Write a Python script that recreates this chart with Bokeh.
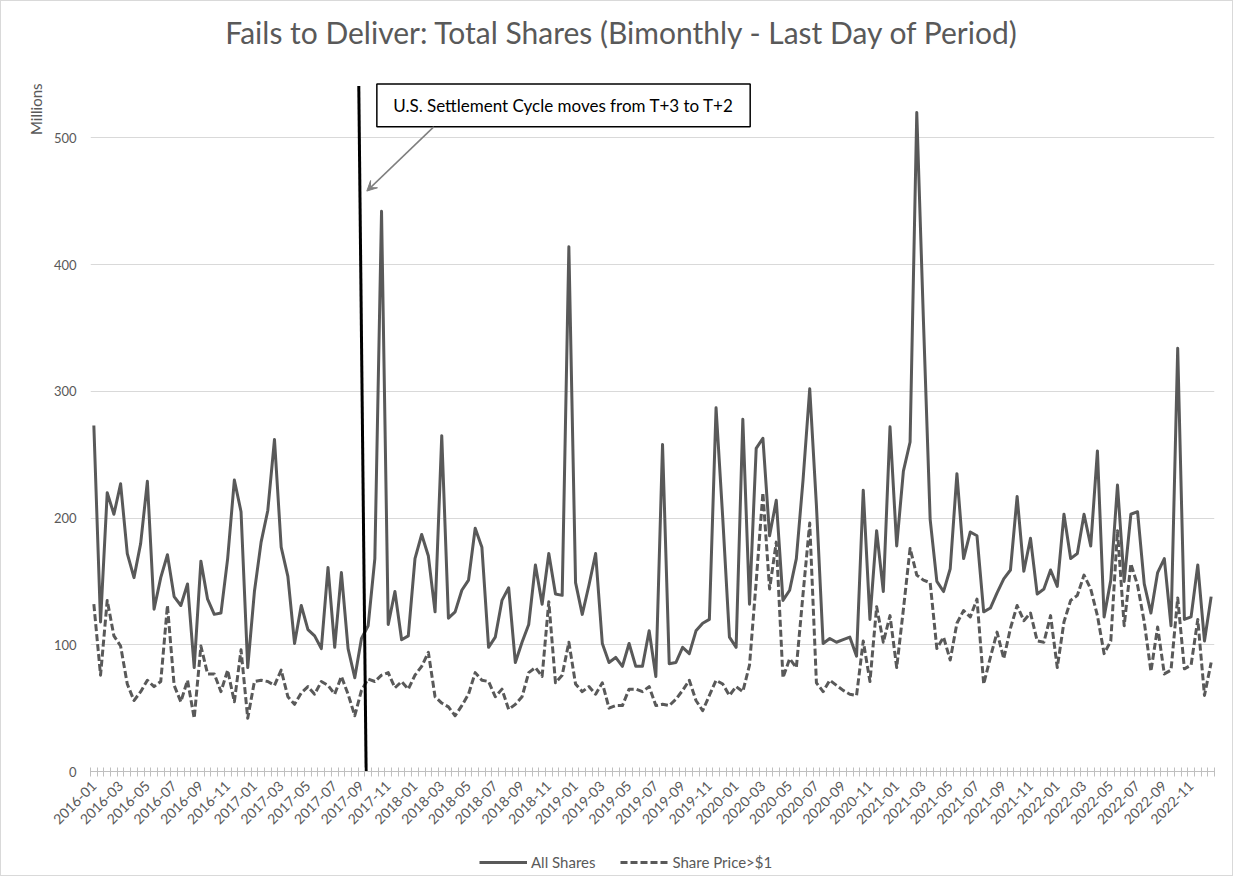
import math
from bokeh.plotting import figure
from bokeh.layouts import column
from bokeh.models import Range1d, FixedTicker, Label, Legend, LegendItem, Arrow, VeeHead, Title
from bokeh.embed import file_html
from bokeh.resources import INLINE

# ---- data (millions of shares, twice-monthly, 2016-01 .. 2022-12) ----
all_shares = [273, 118, 220, 203, 227, 172, 153, 180, 229, 128,
              153, 171, 138, 131, 148, 82, 166, 136, 124, 125,
              168, 230, 205, 82, 142, 181, 206, 262, 177, 154,
              101, 131, 112, 107, 97, 161, 98, 157, 97, 74,
              105, 115, 168, 442, 116, 142, 104, 107, 168, 187,
              170, 126, 265, 121, 126, 143, 151, 192, 177, 98,
              106, 135, 145, 86, 102, 116, 163, 132, 172, 140,
              139, 414, 149, 124, 147, 172, 101, 86, 90, 83,
              101, 83, 83, 111, 75, 258, 85, 86, 98, 93,
              111, 117, 120, 287, 200, 106, 98, 278, 132, 255,
              263, 186, 214, 135, 143, 168, 230, 302, 210, 101,
              105, 102, 104, 106, 91, 222, 120, 190, 142, 272,
              178, 237, 260, 520, 355, 199, 150, 142, 160, 235,
              168, 189, 186, 126, 129, 141, 152, 159, 217, 158,
              184, 140, 144, 159, 146, 203, 168, 172, 203, 178,
              253, 122, 151, 226, 150, 203, 205, 148, 125, 157,
              168, 115, 334, 120, 122, 163, 103, 138]

share_price_gt1 = [132, 76, 135, 107, 99, 69, 56, 63, 72, 67,
                   71, 131, 68, 55, 72, 42, 99, 77, 77, 63,
                   80, 55, 96, 42, 71, 72, 71, 68, 80, 59,
                   53, 62, 67, 61, 71, 68, 61, 75, 61, 44,
                   64, 73, 71, 76, 78, 66, 71, 65, 76, 83,
                   94, 59, 54, 51, 44, 52, 61, 78, 72, 71,
                   59, 65, 49, 53, 59, 78, 82, 75, 134, 70,
                   76, 102, 69, 63, 67, 61, 70, 50, 52, 52,
                   65, 65, 63, 67, 52, 53, 52, 57, 64, 72,
                   56, 48, 60, 72, 69, 60, 67, 63, 84, 150,
                   220, 144, 181, 74, 89, 82, 140, 196, 70, 63,
                   72, 68, 64, 61, 60, 103, 71, 130, 102, 123,
                   82, 128, 176, 155, 151, 149, 97, 106, 88, 117,
                   127, 122, 136, 69, 90, 110, 89, 113, 131, 119,
                   125, 103, 102, 123, 82, 118, 135, 139, 155, 144,
                   123, 93, 103, 190, 115, 164, 147, 118, 79, 114,
                   77, 80, 137, 81, 84, 120, 60, 86]

tick_labels = ["2016-01", "2016-03", "2016-05", "2016-07", "2016-09", "2016-11",
               "2017-01", "2017-03", "2017-05", "2017-07", "2017-09", "2017-11",
               "2018-01", "2018-03", "2018-05", "2018-07", "2018-09", "2018-11",
               "2019-01", "2019-03", "2019-05", "2019-07", "2019-09", "2019-11",
               "2020-01", "2020-03", "2020-05", "2020-07", "2020-09", "2020-11",
               "2021-01", "2021-03", "2021-05", "2021-07", "2021-09", "2021-11",
               "2022-01", "2022-03", "2022-05", "2022-07", "2022-09", "2022-11"]
y_ticks = [0, 100, 200, 300, 400, 500]

series_names = ["All Shares", "Share Price>$1"]
title_text = "Fails to Deliver: Total Shares (Bimonthly - Last Day of Period)"
note_text = "U.S. Settlement Cycle moves from T+3 to T+2"

n = len(all_shares)
x = list(range(n))
label_pos = list(range(0, n, 4))[:len(tick_labels)]

FONT = "Lato"
GREY = "#595959"
DASH = "7 3"
W = 1231
BL, BR = 89, 18
FRAME_W = W - BL - BR


def strip(height):
    s = figure(width=W, height=height, output_backend="svg", toolbar_location=None, title=None,
               x_range=Range1d(0, FRAME_W), y_range=Range1d(0, height),
               min_border_left=BL, min_border_right=BR, min_border_top=0, min_border_bottom=0,
               x_axis_type=None, y_axis_type=None)
    s.outline_line_color = None
    s.background_fill_color = "white"
    s.border_fill_color = "white"
    return s


# ---- title strip ----
hdr = strip(73)
hdr.add_layout(Label(x=532, y=43, text=title_text, text_align="center", text_baseline="middle",
                     text_font=FONT, text_font_size="30px", text_color=GREY))

# ---- main chart ----
p = figure(width=W, height=771, output_backend="svg", toolbar_location=None, title=None,
           x_range=Range1d(-0.5, n - 0.5), y_range=Range1d(0, 550),
           min_border_left=BL, min_border_right=BR, min_border_top=0, min_border_bottom=74)
p.outline_line_color = None
p.background_fill_color = "white"
p.border_fill_color = "white"

p.xgrid.visible = False
p.ygrid.ticker = FixedTicker(ticks=y_ticks)
p.ygrid.grid_line_color = "#d9d9d9"
p.ygrid.grid_line_width = 1

p.yaxis.ticker = FixedTicker(ticks=y_ticks)
p.yaxis.axis_line_color = None
p.yaxis.major_tick_line_color = None
p.yaxis.minor_tick_line_color = None
p.yaxis.major_label_standoff = 8
p.yaxis.major_label_text_font = FONT
p.yaxis.major_label_text_font_size = "13px"
p.yaxis.major_label_text_color = GREY

p.add_layout(Title(text="Millions", align="right", text_font=FONT, text_font_size="15px",
                   text_font_style="normal", text_color=GREY, standoff=12, offset=9), "left")

p.xaxis.ticker = FixedTicker(ticks=label_pos, minor_ticks=[k - 0.5 for k in range(n + 1)])
p.xaxis.major_label_overrides = {pos: lab for pos, lab in zip(label_pos, tick_labels)}
p.xaxis.major_label_orientation = math.pi / 4
p.xaxis.major_tick_line_color = None
p.xaxis.minor_tick_line_color = "#bfbfbf"
p.xaxis.minor_tick_in = 4
p.xaxis.minor_tick_out = 5
p.xaxis.axis_line_color = "#bfbfbf"
p.xaxis.major_label_standoff = 6
p.xaxis.major_label_text_font = FONT
p.xaxis.major_label_text_font_size = "14px"
p.xaxis.major_label_text_color = GREY

r1 = p.line(x, all_shares, line_color=GREY, line_width=3, line_join="round")
r2 = p.line(x, share_price_gt1, line_color=GREY, line_width=3, line_dash=DASH,
            line_join="round")

# settlement-cycle marker
p.segment(x0=[39.6], y0=[541], x1=[40.7], y1=[-2], line_color="black", line_width=3)
p.quad(left=[42.3], right=[98.1], bottom=[508.7], top=[542.6],
       fill_color="white", line_color="black", line_width=1.5)
p.add_layout(Label(x=70.2, y=525.6, text=note_text, text_align="center",
                   text_baseline="middle", text_font=FONT, text_font_size="17px",
                   text_color="black"))
p.add_layout(Arrow(end=VeeHead(size=10, fill_color="#7f7f7f", line_color="#7f7f7f"),
                   x_start=50.8, y_start=508.7, x_end=40.8, y_end=458,
                   line_color="#7f7f7f", line_width=1.5))

# ---- legend strip ----
q = strip(30)
d1 = q.line([0, 1], [100, 100], line_color=GREY, line_width=3)
d2 = q.line([0, 1], [100, 100], line_color=GREY, line_width=3, line_dash=DASH)
legend = Legend(items=[LegendItem(label=series_names[0], renderers=[d1]),
                       LegendItem(label=series_names[1], renderers=[d2])],
                location=(389, 3), orientation="horizontal")
legend.border_line_color = None
legend.background_fill_alpha = 0
legend.label_text_font = FONT
legend.label_text_font_size = "15px"
legend.label_text_color = GREY
legend.glyph_width = 48
legend.glyph_height = 20
legend.label_height = 20
legend.label_standoff = 4
legend.spacing = 25
legend.padding = 0
legend.margin = 0
q.add_layout(legend)

layout = column(hdr, p, q, spacing=0)
layout.styles = {"border": "1px solid #d9d9d9"}

open("out.html", "w").write(file_html(layout, INLINE))
